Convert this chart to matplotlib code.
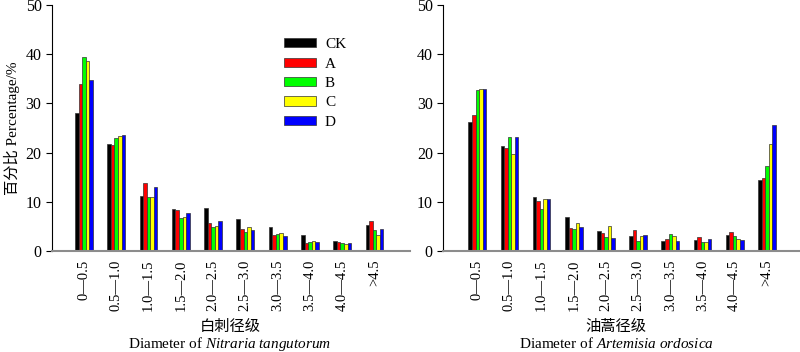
import numpy as np
import matplotlib.pyplot as plt

plt.rcParams['font.family'] = ['Liberation Serif', 'Noto Sans CJK SC']
plt.rcParams['mathtext.fontset'] = 'custom'
plt.rcParams['mathtext.rm'] = 'Liberation Serif'
plt.rcParams['mathtext.it'] = 'Liberation Serif:italic'

# diameter classes
classes = ['0—0.5', '0.5—1.0', '1.0—1.5', '1.5—2.0', '2.0—2.5',
           '2.5—3.0', '3.0—3.5', '3.5—4.0', '4.0—4.5', '>4.5']
treatments = ['CK', 'A', 'B', 'C', 'D']
colors = ['#000000', '#ff0000', '#00ff00', '#ffff00', '#0000ff']

# Nitraria tangutorum (%)
nit_CK = [28.1, 21.7, 11.1, 8.5, 8.7, 6.4, 4.8, 3.3, 2.1, 5.2]
nit_A = [34.0, 21.5, 13.8, 8.3, 5.7, 4.4, 3.3, 1.7, 1.8, 6.0]
nit_B = [39.5, 23.0, 11.0, 6.7, 4.9, 3.9, 3.5, 1.9, 1.6, 4.2]
nit_C = [38.6, 23.3, 11.0, 7.0, 5.1, 4.9, 3.6, 2.0, 1.5, 3.3]
nit_D = [34.7, 23.6, 13.0, 7.8, 6.0, 4.3, 3.0, 1.8, 1.7, 4.5]

# Artemisia ordosica (%)
art_CK = [26.2, 21.4, 10.9, 7.0, 4.0, 3.0, 2.1, 2.2, 3.2, 14.4]
art_A = [27.6, 20.9, 10.2, 4.7, 3.7, 4.3, 2.5, 2.8, 3.8, 14.9]
art_B = [32.7, 23.2, 8.5, 4.4, 2.8, 2.1, 3.5, 1.8, 3.0, 17.3]
art_C = [32.9, 19.8, 10.6, 5.6, 5.0, 3.0, 3.1, 1.8, 2.4, 21.8]
art_D = [32.9, 23.1, 10.5, 4.8, 2.6, 3.3, 2.0, 2.4, 2.2, 25.5]

fig = plt.figure(figsize=(8, 3.52), dpi=100)
ax1 = fig.add_axes([0.065, 0.287, 0.4475, 0.699])
ax2 = fig.add_axes([0.554, 0.287, 0.446, 0.699])

x = np.arange(len(classes))
w = 0.11

def draw(ax, series, xlim):
    for i, (vals, c, lab) in enumerate(zip(series, colors, treatments)):
        ax.bar(x + (i - 2) * w, vals, w, color=c, edgecolor='#333333',
               linewidth=0.5, label=lab)
    ax.set_xlim(*xlim)
    ax.set_ylim(0, 50)
    ax.set_yticks([0, 10, 20, 30, 40, 50])
    ax.set_xticks(x)
    ax.set_xticklabels(classes, rotation=90, fontsize=10.5)
    ax.tick_params(axis='x', length=0, pad=6)
    ax.tick_params(axis='y', direction='out', length=4, labelsize=11.5)
    ax.spines['top'].set_visible(False)
    ax.spines['right'].set_visible(False)
    ax.spines['bottom'].set_color('#8c8c8c')
    ax.spines['bottom'].set_linewidth(1.5)

draw(ax1, [nit_CK, nit_A, nit_B, nit_C, nit_D], (-0.99, 10.1))
draw(ax2, [art_CK, art_A, art_B, art_C, art_D], (-1.06, 10.03))

fig.text(0.2875, 1 - 327 / 352, '白刺径级', ha='center', va='center', fontsize=11)
fig.text(0.2875, 1 - 344 / 352, r'Diameter of $\it{Nitraria\ tangutorum}$',
         ha='center', va='center', fontsize=11)
fig.text(0.77, 1 - 327 / 352, '油蒿径级', ha='center', va='center', fontsize=11)
fig.text(0.77, 1 - 344 / 352, r'Diameter of $\it{Artemisia\ ordosica}$',
         ha='center', va='center', fontsize=11)

ax1.set_ylabel('百分比 Percentage/%', fontsize=11, labelpad=4)
ax1.legend(loc='upper left', bbox_to_anchor=(0.63, 0.89), frameon=False,
           fontsize=11, handlelength=2.1, handleheight=0.55,
           labelspacing=0.42, handletextpad=0.6, borderaxespad=0)

fig.savefig('out.png', dpi=100)
